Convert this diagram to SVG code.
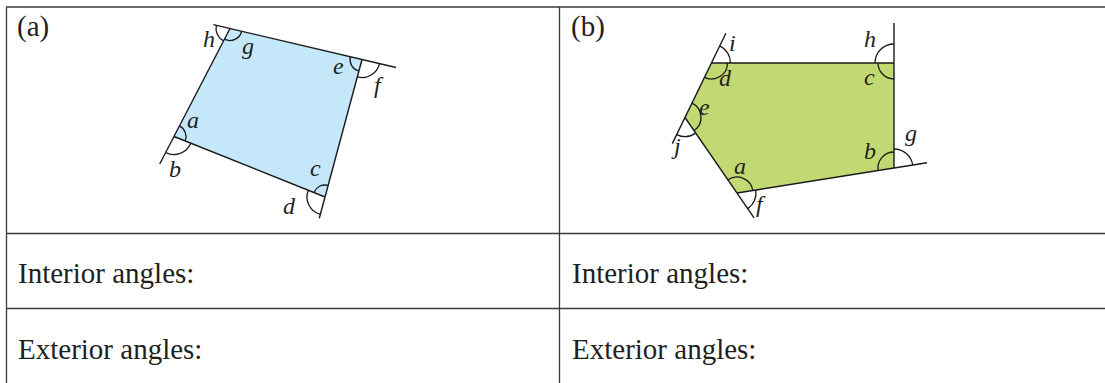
<svg xmlns="http://www.w3.org/2000/svg" width="1105" height="383" viewBox="0 0 1105 383">
<style>
.grid{stroke:#3a3a3a;stroke-width:1.3;fill:none}
.edge{stroke:#1a1a1a;stroke-width:1.4;fill:none;stroke-linecap:butt}
.arc{stroke:#1a1a1a;stroke-width:1.3;fill:none}
.txt{font-family:"Liberation Serif","Times New Roman",serif;font-size:29px;fill:#231f20}
.lbl{font-family:"Liberation Serif","Times New Roman",serif;font-style:italic;font-size:24px;fill:#231f20}
</style>
<rect width="1105" height="383" fill="#ffffff"/>
<g id="table">
<line class="grid" x1="6" y1="7" x2="1105" y2="7"/>
<line class="grid" x1="6.5" y1="7" x2="6.5" y2="383"/>
<line class="grid" x1="559.5" y1="7" x2="559.5" y2="383"/>
<line class="grid" x1="6" y1="233.5" x2="1105" y2="233.5"/>
<line class="grid" x1="6" y1="308.5" x2="1105" y2="308.5"/>
<text class="txt" x="17" y="36">(a)</text>
<text class="txt" x="571" y="36">(b)</text>
<text class="txt" x="18" y="283">Interior angles:</text>
<text class="txt" x="572" y="283">Interior angles:</text>
<text class="txt" x="18" y="359">Exterior angles:</text>
<text class="txt" x="572" y="359">Exterior angles:</text>
</g>
<g id="quadrilateral-a">
<polygon points="230,28.5 362,59.5 325,197 174,136.5" fill="#c4e7f9" stroke="none"/>
<g id="a-lines">
<line class="edge" x1="213.4" y1="24.6" x2="396.1" y2="67.5"/>
<line class="edge" x1="230" y1="28.5" x2="159.7" y2="164"/>
<line class="edge" x1="174" y1="136.5" x2="325" y2="197"/>
<line class="edge" x1="362" y1="59.5" x2="319.3" y2="218.2"/>
</g>
<g id="a-arcs">
<path class="arc" d="M179.52,125.85 A12,12 0 0 1 185.14,140.96"/>
<path class="arc" d="M190.71,143.19 A18,18 0 0 1 165.71,152.48"/>
<path class="arc" d="M313.86,192.54 A12,12 0 0 1 328.12,185.41"/>
<path class="arc" d="M320.32,214.38 A18,18 0 0 1 308.29,190.31"/>
<path class="arc" d="M358.88,71.09 A12,12 0 0 1 350.32,56.76"/>
<path class="arc" d="M379.52,63.61 A18,18 0 0 1 357.32,76.88"/>
<path class="arc" d="M241.68,31.24 A12,12 0 0 1 224.48,39.15"/>
<path class="arc" d="M223.56,40.93 A14,14 0 0 1 216.37,25.3"/>
</g>
<text class="lbl" x="187" y="128">a</text>
<text class="lbl" x="169" y="177">b</text>
<text class="lbl" x="310" y="176">c</text>
<text class="lbl" x="283" y="214">d</text>
<text class="lbl" x="333" y="74">e</text>
<text class="lbl" x="374" y="93">f</text>
<text class="lbl" x="242" y="54">g</text>
<text class="lbl" x="203" y="47">h</text>
</g>
<g id="pentagon-b">
<polygon points="711.5,63 894,63 894,168 737,193 685,117.5" fill="#c2d872" stroke="none"/>
<g id="b-lines">
<line class="edge" x1="672.3" y1="143.6" x2="725.9" y2="33.3"/>
<line class="edge" x1="711.5" y1="63" x2="894" y2="63"/>
<line class="edge" x1="894" y1="23" x2="894" y2="168"/>
<line class="edge" x1="737" y1="193" x2="927" y2="162.7"/>
<line class="edge" x1="685" y1="117.5" x2="754.1" y2="217.8"/>
</g>
<g id="b-arcs">
<path class="arc" d="M727.5,63 A16,16 0 0 1 704.50,77.39"/>
<path class="arc" d="M719.81,45.91 A19,19 0 0 1 730.5,63"/>
<path class="arc" d="M894,79 A16,16 0 0 1 878,63"/>
<path class="arc" d="M875,63 A19,19 0 0 1 894,44"/>
<path class="arc" d="M878.2,170.52 A16,16 0 0 1 894,152"/>
<path class="arc" d="M894,149 A19,19 0 0 1 912.76,165.01"/>
<path class="arc" d="M727.92,179.82 A16,16 0 0 1 752.8,190.48"/>
<path class="arc" d="M755.76,190.01 A19,19 0 0 1 747.78,208.65"/>
<path class="arc" d="M692.0,103.11 A16,16 0 0 1 694.08,130.68"/>
<path class="arc" d="M695.78,133.15 A19,19 0 0 1 676.69,134.59"/>
</g>
<text class="lbl" x="734" y="174">a</text>
<text class="lbl" x="864" y="159">b</text>
<text class="lbl" x="864" y="85">c</text>
<text class="lbl" x="719" y="86">d</text>
<text class="lbl" x="699" y="115">e</text>
<text class="lbl" x="756" y="212">f</text>
<text class="lbl" x="905" y="141">g</text>
<text class="lbl" x="864" y="47">h</text>
<text class="lbl" x="729" y="51">i</text>
<text class="lbl" x="674" y="154">j</text>
</g>
</svg>
